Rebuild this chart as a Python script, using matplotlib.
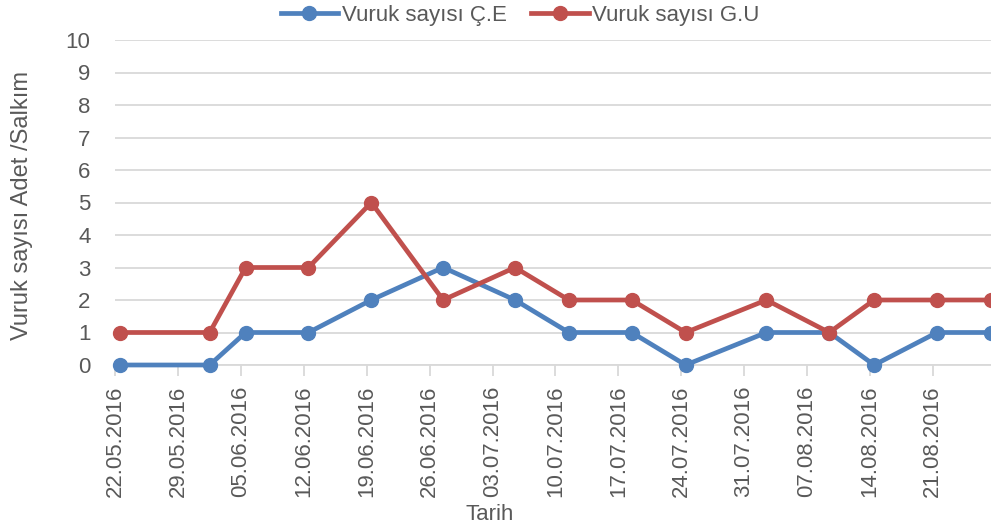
import matplotlib
matplotlib.use("Agg")
import matplotlib.pyplot as plt
import matplotlib.dates as mdates
from datetime import datetime

plt.rcParams['font.family'] = ['Liberation Sans', 'DejaVu Sans']

dates = ["22.05.2016", "01.06.2016", "05.06.2016", "12.06.2016", "19.06.2016",
         "27.06.2016", "05.07.2016", "11.07.2016", "18.07.2016", "24.07.2016",
         "02.08.2016", "09.08.2016", "14.08.2016", "21.08.2016", "27.08.2016"]
ce_values = [0, 0, 1, 1, 2, 3, 2, 1, 1, 0, 1, 1, 0, 1, 1]
gu_values = [1, 1, 3, 3, 5, 2, 3, 2, 2, 1, 2, 1, 2, 2, 2]
tick_labels = ["22.05.2016", "29.05.2016", "05.06.2016", "12.06.2016", "19.06.2016",
               "26.06.2016", "03.07.2016", "10.07.2016", "17.07.2016", "24.07.2016",
               "31.07.2016", "07.08.2016", "14.08.2016", "21.08.2016"]
series_names = ["Vuruk sayısı Ç.E", "Vuruk sayısı G.U"]

# Excel date axis: points sit in the middle of each day's slot
x = [mdates.date2num(datetime.strptime(d, "%d.%m.%Y")) + 0.5 for d in dates]
ticks = [mdates.date2num(datetime.strptime(d, "%d.%m.%Y")) for d in tick_labels]

W, H = 991, 528
fig = plt.figure(figsize=(W / 100, H / 100), dpi=100)
left_px, right_px = 115.4, 995.4
top_px, bot_px = 40, 365
ax = fig.add_axes([left_px / W, (H - bot_px) / H, (right_px - left_px) / W, (bot_px - top_px) / H])

blue = "#4F81BD"
red = "#C0504D"
grey_text = "#595959"

ax.plot(x, ce_values, color=blue, lw=3.4, marker="o", ms=10, label=series_names[0],
        solid_joinstyle="round", clip_on=False, zorder=3)
ax.plot(x, gu_values, color=red, lw=3.4, marker="o", ms=10, label=series_names[1],
        solid_joinstyle="round", clip_on=False, zorder=3)

start = ticks[0]
ax.set_xlim(start, start + 98)
ax.set_ylim(0, 10)
ax.set_yticks(range(0, 11))
ax.set_xticks(ticks)
ax.set_xticklabels(tick_labels, rotation=90, fontsize=16, color=grey_text)
ax.tick_params(axis="y", length=0, pad=18, labelsize=16, labelcolor=grey_text)
ax.tick_params(axis="x", length=8, width=1.3, color="#D9D9D9", pad=7)

ax.grid(axis="y", color="#D9D9D9", lw=1.3)
ax.set_axisbelow(True)
for s in ["top", "right", "left"]:
    ax.spines[s].set_visible(False)
ax.spines["bottom"].set_color("#D9D9D9")
ax.spines["bottom"].set_linewidth(1.3)

fig.text(22 / W, 1 - 206 / H, "Vuruk sayısı Adet /Salkım", rotation=90, ha="center", va="center",
         fontsize=17, color=grey_text)
fig.text(490 / W, 1 - 514 / H, "Tarih", ha="center", va="center", fontsize=16, color=grey_text)

leg = fig.legend(loc="center", bbox_to_anchor=(520 / W, 1 - 15 / H), ncol=2, frameon=False,
                 fontsize=16, handlelength=2.6, columnspacing=1.1, handletextpad=0.15,
                 labelcolor=grey_text, borderpad=0.1)

fig.savefig("out.png", dpi=100)
